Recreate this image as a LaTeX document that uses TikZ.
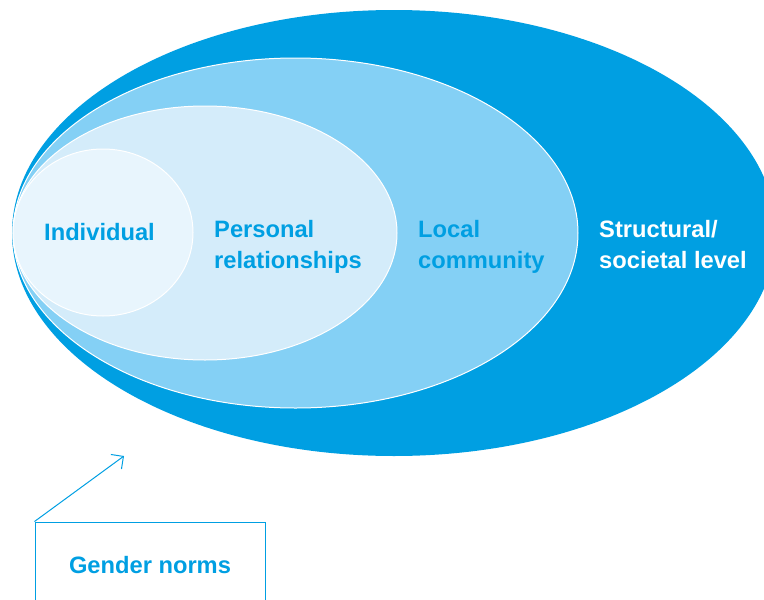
\documentclass[tikz,border=0pt]{standalone}
\usepackage{fontspec}
\setmainfont{Liberation Sans}
\usetikzlibrary{arrows.meta}
\definecolor{dblue}{HTML}{009FE2}
\definecolor{mblue}{HTML}{84D0F5}
\definecolor{lblue}{HTML}{D4ECFA}
\definecolor{pblue}{HTML}{E8F5FD}
\tikzset{
  lbl/.style={anchor=base west, inner sep=0pt, text=dblue, font=\fontsize{23.7}{31}\selectfont\bfseries},
  wlbl/.style={lbl, text=white},
  ring/.style={draw=white, line width=1pt},
  normbox/.style={draw=dblue, line width=1pt, minimum width=230pt, minimum height=86pt, inner sep=0pt, text=dblue, font=\fontsize{23.7}{31}\selectfont\bfseries},
  pointer/.style={draw=dblue, line width=1pt, -{Straight Barb[length=9pt,width=18pt]}}
}
\begin{document}
\begin{tikzpicture}[x=1pt,y=-1pt]
\useasboundingbox (0,0) rectangle (764,600);
\clip (0,0) rectangle (764,600);
% ellipses
\fill[dblue] (394,233) ellipse [x radius=382pt, y radius=223pt];
\filldraw[ring, fill=mblue] (295.5,233) ellipse [x radius=282.5pt, y radius=175pt];
\filldraw[ring, fill=lblue] (205,233) ellipse [x radius=192pt, y radius=127pt];
\filldraw[ring, fill=pblue] (103,232.5) ellipse [x radius=90pt, y radius=83.5pt];
% labels
\node[lbl] (ind) at (44,240) {Individual};
\node[lbl] (pr1) at (214,237) {Personal};
\node[lbl] (pr2) at (214,268) {relationships};
\node[lbl] (lc1) at (418,237) {Local};
\node[lbl] (lc2) at (418,268) {community};
\node[wlbl] (sl1) at (599,237) {Structural/};
\node[wlbl] (sl2) at (599,268) {societal level};
% gender norms box
\node[normbox] (gn) at (150,565) {Gender norms};
\coordinate (tip) at (124,456);
\draw[pointer] (gn.north west) -- (tip);
\end{tikzpicture}
\end{document}
